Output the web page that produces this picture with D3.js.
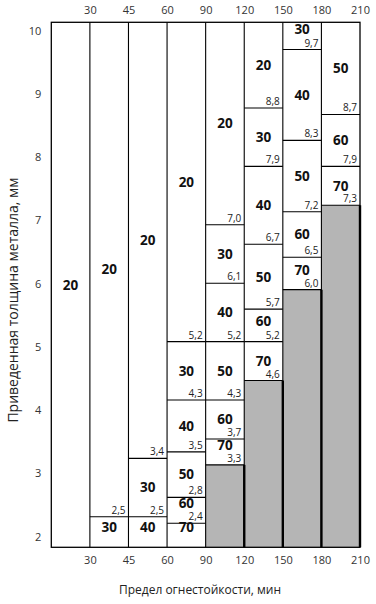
<!DOCTYPE html>
<html>
<head>
<meta charset="utf-8">
<script src="https://cdn.jsdelivr.net/npm/d3@7"></script>
<style>
  body { margin: 0; background: #fff; }
  svg { display: block; font-family: "Open Sans", sans-serif; }
</style>
</head>
<body>
<div id="chart"></div>
<script>
// fire resistance limits (column edges), min
const limits = [0, 30, 45, 60, 90, 120, 150, 180, 210]
// zone labels in each column, top to bottom
const zoneLabels = [
  [20],
  [20, 30],
  [20, 30, 40],
  [20, 30, 40, 50, 60, 70],
  [20, 30, 40, 50, 60, 70],
  [20, 30, 40, 50, 60, 70],
  [30, 40, 50, 60, 70],
  [50, 60, 70]
]
// lower bound of each zone (reduced metal thickness, mm)
const zoneBounds = [
  [],
  [2.5],
  [3.4, 2.5],
  [5.2, 4.3, 3.5, 2.8, 2.4],
  [7.0, 6.1, 5.2, 4.3, 3.7, 3.3],
  [8.8, 7.9, 6.7, 5.7, 5.2, 4.6],
  [9.7, 8.3, 7.2, 6.5, 6.0],
  [8.7, 7.9, 7.3]
]
// column ends in a grey (not permitted) zone below the last bound
const greyZone = [false, false, false, false, true, true, true, true]
const yTicks = [2, 3, 4, 5, 6, 7, 8, 9, 10]
const xTitle = "Предел огнестойкости, мин"
const yTitle = "Приведенная толщина металла, мм"

let margin = {top: 22.3, right: 16, bottom: 56.7, left: 51.3},
  width = 376 - margin.left - margin.right,
  height = 604 - margin.top - margin.bottom

let svg = d3.select("#chart")
  .append("svg")
    .attr("width", 376)
    .attr("height", 604)
let g = svg.append("g")
    .attr("transform", "translate(" + margin.left + "," + margin.top + ")")

let xScale = d3.scalePoint()
  .domain(limits)
  .range([0, width])

// zones scale and axis-label scale (the printed nomogram is not quite to scale)
let yScale = d3.scaleLinear()
  .domain([2.03, 10.12])
  .range([height, 0])
let yAxisScale = d3.scaleLinear()
  .domain([1.83, 10.13])
  .range([height, 0])

// build segments
let segs = []
zoneLabels.forEach(function(labels, i){
  let bounds = zoneBounds[i]
  labels.forEach(function(lab, j){
    let top = j == 0 ? yScale.domain()[1] : bounds[j-1]
    let bot = j < bounds.length ? bounds[j] : yScale.domain()[0]
    segs.push({col: i, label: lab, top: top, bot: bot, value: j < bounds.length ? bounds[j] : null})
  })
})
let greys = zoneBounds.map((b, i) => ({col: i, top: b[b.length-1]})).filter(d => greyZone[d.col])

// grey zones
g.append("g").selectAll("rect")
  .data(greys)
  .join("rect")
    .attr("x", d => xScale(limits[d.col]))
    .attr("y", d => yScale(d.top))
    .attr("width", d => xScale(limits[d.col+1]) - xScale(limits[d.col]))
    .attr("height", d => height - yScale(d.top))
    .attr("fill", "#b5b5b5")

// zone bounds
g.append("g").selectAll("line")
  .data(segs.filter(d => d.value != null))
  .join("line")
    .attr("x1", d => xScale(limits[d.col]))
    .attr("x2", d => xScale(limits[d.col+1]))
    .attr("y1", d => yScale(d.value))
    .attr("y2", d => yScale(d.value))
    .attr("stroke", "black")
    .attr("stroke-width", 1.1)

// column lines
g.append("g").selectAll("line")
  .data(limits.slice(1, -1))
  .join("line")
    .attr("x1", d => xScale(d))
    .attr("x2", d => xScale(d))
    .attr("y1", 0)
    .attr("y2", height)
    .attr("stroke", "black")
    .attr("stroke-width", 1.1)

// heavier edges down the grey zones
g.append("g").selectAll("line")
  .data(greys)
  .join("line")
    .attr("x1", d => xScale(limits[d.col+1]))
    .attr("x2", d => xScale(limits[d.col+1]))
    .attr("y1", d => yScale(d.top))
    .attr("y2", height)
    .attr("stroke", "black")
    .attr("stroke-width", 2.4)

g.append("rect")
  .attr("width", width)
  .attr("height", height)
  .attr("fill", "none")
  .attr("stroke", "black")
  .attr("stroke-width", 1.3)

// zone labels
g.append("g").selectAll("text")
  .data(segs)
  .join("text")
    .attr("x", d => (xScale(limits[d.col]) + xScale(limits[d.col+1])) / 2)
    .attr("y", function(d){
      let y0 = yScale(d.top), y1 = yScale(d.bot)
      let mid = (y0 + y1) / 2
      if (y1 - y0 < 36) mid = Math.min(mid, y1 - 20)
      return mid
    })
    .attr("dy", "0.36em")
    .attr("text-anchor", "middle")
    .attr("font-size", 13.5)
    .attr("font-weight", "bold")
    .attr("fill", "#111")
    .text(d => d.label)

// bound values
g.append("g").selectAll("text")
  .data(segs.filter(d => d.value != null))
  .join("text")
    .attr("x", d => xScale(limits[d.col+1]) - 3)
    .attr("y", d => yScale(d.value) - 3)
    .attr("text-anchor", "end")
    .attr("font-size", 10)
    .attr("fill", "#222")
    .text(d => d3.format(".1f")(d.value).replace(".", ","))

// axes
let xTop = g.append("g")
  .call(d3.axisTop(xScale).tickValues(limits.slice(1)).tickSize(0).tickPadding(8))
let xBot = g.append("g")
  .attr("transform", "translate(0," + height + ")")
  .call(d3.axisBottom(xScale).tickValues(limits.slice(1)).tickSize(0).tickPadding(9))
let yAx = g.append("g")
  .call(d3.axisLeft(yAxisScale).tickValues(yTicks).tickSize(0).tickPadding(10))
;[xTop, xBot, yAx].forEach(function(a){
  a.select(".domain").remove()
  a.selectAll("text").attr("font-size", 11).attr("fill", "#333").attr("font-family", "Open Sans, sans-serif")
})

svg.append("text")
  .attr("x", 200)
  .attr("y", 594)
  .attr("text-anchor", "middle")
  .attr("font-size", 12)
  .attr("fill", "#222")
  .text(xTitle)

svg.append("text")
  .attr("transform", "translate(18,300) rotate(-90)")
  .attr("text-anchor", "middle")
  .attr("font-size", 14)
  .attr("fill", "#222")
  .text(yTitle)
</script>
</body>
</html>
